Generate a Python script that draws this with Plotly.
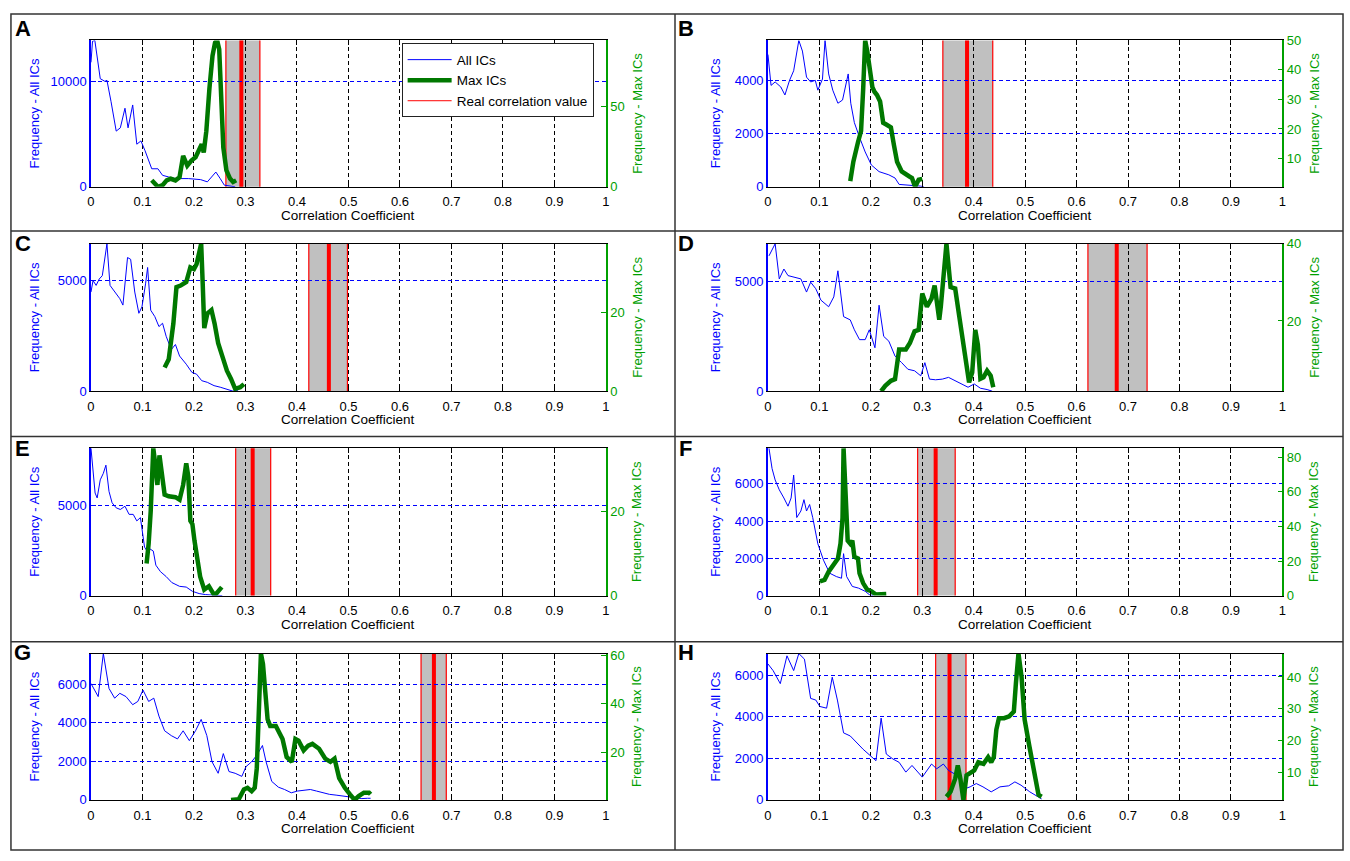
import plotly.graph_objects as go

FONT = "Liberation Sans, Arial, Helvetica, sans-serif"
W, H = 1350, 861
BLUE = "#0000ff"
GREEN_AX = "#00a000"
GREEN_LN = "#007800"
RED = "#ff0000"

panel_letters = ["A", "B", "C", "D", "E", "F", "G", "H"]
x_ticks = [0, 0.1, 0.2, 0.3, 0.4, 0.5, 0.6, 0.7, 0.8, 0.9, 1]
x_tick_text = ["0", "0.1", "0.2", "0.3", "0.4", "0.5", "0.6", "0.7", "0.8", "0.9", "1"]
x_title = "Correlation Coefficient"
left_title = "Frequency - All ICs"
right_title = "Frequency - Max ICs"
legend_names = ["All ICs", "Max ICs", "Real correlation value"]

# ---------------- Panel A ----------------
A_all_x = [0, 0.003, 0.0075, 0.0125, 0.018, 0.027, 0.031, 0.039, 0.049, 0.057, 0.066, 0.072, 0.081, 0.089,
           0.097, 0.105, 0.118, 0.13, 0.139, 0.151, 0.164, 0.189, 0.213, 0.226, 0.2425, 0.251, 0.259, 0.272, 0.28]
A_all = [11800, 13800, 13880, 12100, 10250, 10000, 10100, 8070, 5280, 5590, 7450, 5590, 7760, 4040,
         4350, 3420, 1710, 1710, 1090, 930, 780, 780, 680, 470, 1400, 780, 155, 60, 0]
A_max_x = [0.118, 0.13, 0.139, 0.147, 0.155, 0.164, 0.172, 0.179, 0.187, 0.195, 0.203, 0.209, 0.215, 0.219,
           0.224, 0.23, 0.236, 0.241, 0.245, 0.249, 0.253, 0.257, 0.263, 0.27, 0.276, 0.282]
A_max = [4.1, 0, 1, 4, 5, 4, 6, 19.3, 13.2, 16.3, 18.3, 22.4, 26.5, 21.4,
         34.6, 61, 81.4, 89.6, 91, 85.5, 61, 24.4, 10.2, 5.1, 3, 4]

# ---------------- Panel B ----------------
B_all_x = [0, 0.006, 0.014, 0.025, 0.033, 0.042, 0.05, 0.06, 0.067, 0.075, 0.083, 0.092, 0.097, 0.106, 0.111,
           0.118, 0.126, 0.136, 0.145, 0.156, 0.161, 0.168, 0.178, 0.189, 0.201, 0.216, 0.235, 0.247, 0.255,
           0.285, 0.297, 0.303]
B_all = [4970, 3810, 3940, 3750, 3450, 4000, 4360, 5500, 5100, 4120, 3940, 4000, 3630, 4050, 5500,
         4240, 3630, 3140, 3260, 4240, 3140, 2410, 1860, 1310, 820, 570, 450, 330, 90,
         60, 25, 0]
B_max_x = [0.16, 0.166, 0.175, 0.181, 0.185, 0.189, 0.193, 0.197, 0.203, 0.207, 0.212, 0.218, 0.224, 0.23,
           0.239, 0.245, 0.251, 0.26, 0.268, 0.275, 0.28, 0.286, 0.293, 0.3]
B_max = [2.3, 8.9, 15.5, 19.3, 33.1, 50, 46.4, 40.8, 34.2, 32.6, 31.5, 29.3, 22.1, 21.5,
         20.5, 14.4, 8.9, 5.6, 4.5, 3.9, 3.4, 0.4, 2.8, 3.1]

# ---------------- Panel C ----------------
C_all_x = [0, 0.004, 0.01, 0.016, 0.022, 0.031, 0.037, 0.046, 0.056, 0.062, 0.071, 0.077, 0.085, 0.093, 0.099,
           0.106, 0.11, 0.116, 0.124, 0.132, 0.139, 0.146, 0.156, 0.164, 0.172, 0.185, 0.196, 0.205, 0.215,
           0.226, 0.239, 0.251, 0.264, 0.276, 0.285]
C_all = [4480, 5000, 4780, 5070, 5220, 6660, 4780, 4480, 4180, 3890, 6040, 5960, 4480, 3520, 3810,
         4850, 5590, 3660, 3370, 2920, 3070, 2480, 1880, 2110, 1590, 1220, 850, 770, 475,
         400, 250, 180, 100, 0, 30]
C_max_x = [0.143, 0.151, 0.16, 0.166, 0.174, 0.185, 0.193, 0.2, 0.205, 0.21, 0.214, 0.217, 0.22, 0.226,
           0.234, 0.24, 0.247, 0.255, 0.264, 0.272, 0.28, 0.29, 0.297]
C_max = [6.0, 8.1, 17.2, 26.4, 26.8, 27.7, 31.4, 31.0, 32.2, 35.6, 37.4, 27.2, 16.0, 19.7,
         20.6, 17.2, 12.2, 8.9, 5.2, 3.1, 0.6, 1.0, 1.8]

# ---------------- Panel D ----------------
D_all_x = [0.002, 0.008, 0.014, 0.022, 0.031, 0.039, 0.052, 0.064, 0.075, 0.083, 0.093, 0.103, 0.118, 0.128,
           0.136, 0.147, 0.16, 0.168, 0.178, 0.189, 0.197, 0.208, 0.216, 0.225, 0.235, 0.247, 0.26, 0.272,
           0.285, 0.297, 0.305, 0.314, 0.326, 0.339, 0.351, 0.364, 0.376, 0.389, 0.401, 0.413, 0.426, 0.436]
D_all = [6170, 6470, 6720, 5120, 5570, 5270, 5190, 5120, 4520, 4970, 4670, 4150, 3850, 4300,
         5490, 3400, 3250, 2800, 2350, 2350, 2800, 1980, 3920, 2500, 2280, 1600, 1300, 1000,
         930, 700, 1300, 550, 520, 550, 630, 480, 330, 180, 330, 135, 75, 0]
D_max_x = [0.22, 0.228, 0.239, 0.247, 0.255, 0.268, 0.276, 0.285, 0.293, 0.3, 0.309, 0.318, 0.324, 0.333,
           0.336, 0.341, 0.347, 0.355, 0.364, 0.372, 0.383, 0.391, 0.397, 0.403, 0.408, 0.413, 0.419, 0.426,
           0.433, 0.438]
D_max = [1.8, 3.2, 4.5, 4.9, 12.6, 12.6, 14.3, 17.3, 17.7, 27.1, 23.7, 25.8, 29.2, 20.3,
         23.7, 32.6, 40, 28.8, 28.4, 21.1, 10.9, 4.1, 6.6, 17.7, 13.9, 5.0, 5.4, 7.1,
         5.8, 2.8]

# ---------------- Panel E ----------------
E_all_x = [0, 0.004, 0.008, 0.012, 0.018, 0.024, 0.029, 0.035, 0.041, 0.049, 0.057, 0.066, 0.074, 0.082, 0.089,
           0.096, 0.099, 0.104, 0.108, 0.114, 0.121, 0.126, 0.135, 0.146, 0.157, 0.172, 0.185, 0.197, 0.21,
           0.222, 0.239, 0.255]
E_all = [8150, 6850, 5670, 5400, 6400, 6760, 7210, 5760, 5130, 4850, 4760, 4940, 4490, 4490, 4130,
         4310, 3770, 2680, 2500, 2590, 2460, 1680, 1320, 1050, 720, 510, 470, 235, 110,
         55, 20, 0]
E_max_x = [0.108, 0.112, 0.116, 0.121, 0.125, 0.129, 0.133, 0.137, 0.143, 0.151, 0.164, 0.172, 0.179, 0.185,
           0.189, 0.193, 0.197, 0.201, 0.205, 0.212, 0.22, 0.229, 0.235, 0.24, 0.247, 0.254]
E_max = [7.6, 12.3, 20, 34.9, 30.9, 26.2, 33.2, 30.1, 23.9, 23.5, 23.3, 22.7, 26.2, 31.3,
         28.2, 17.7, 16.9, 13, 9.2, 4.5, 1.4, 2.2, 1.0, 0, 1.0, 2.0]

# ---------------- Panel F ----------------
F_all_x = [0.002, 0.008, 0.014, 0.022, 0.031, 0.039, 0.045, 0.05, 0.056, 0.064, 0.07, 0.075, 0.081, 0.087,
           0.097, 0.108, 0.12, 0.133, 0.143, 0.147, 0.153, 0.164, 0.176, 0.189, 0.197, 0.205]
F_all = [7915, 6820, 6210, 5680, 5240, 4800, 5240, 6470, 4190, 4540, 5150, 4540, 4890, 4190,
         2780, 1900, 1200, 1020, 930, 2250, 1020, 490, 400, 230, 50, 0]
F_max_x = [0.101, 0.11, 0.118, 0.128, 0.136, 0.141, 0.145, 0.147, 0.151, 0.155, 0.16, 0.164, 0.168, 0.175,
           0.178, 0.185, 0.193, 0.201, 0.21, 0.222, 0.23]
F_max = [8.2, 9.1, 13.8, 17.6, 21.4, 30, 45, 85.3, 64, 31.8, 30, 31.8, 22.4, 21.4,
         12.9, 7.2, 3.4, 2.5, 0.6, 0.9, 0.9]

# ---------------- Panel G ----------------
G_all_x = [0, 0.006, 0.014, 0.024, 0.035, 0.046, 0.056, 0.068, 0.081, 0.091, 0.101, 0.112, 0.122, 0.132, 0.143,
           0.156, 0.168, 0.179, 0.191, 0.203, 0.214, 0.225, 0.235, 0.247, 0.257, 0.268, 0.28, 0.293, 0.301,
           0.312, 0.322, 0.333, 0.34, 0.351, 0.364, 0.376, 0.389, 0.401, 0.413, 0.426, 0.438, 0.451, 0.463,
           0.476, 0.488, 0.501, 0.513, 0.526, 0.537, 0.543]
G_all = [6030, 5770, 5350, 7580, 5770, 5270, 5520, 5350, 4930, 5100, 5690, 5100, 5270, 4340, 3580,
         3330, 3160, 3580, 3070, 3580, 4170, 3330, 1980, 1380, 2400, 1470, 1380, 1220, 1720,
         1980, 2310, 2820, 1980, 960, 660, 540, 370, 460, 490, 540, 460, 370, 290,
         250, 200, 150, 85, 70, 85, 85]
G_max_x = [0.272, 0.287, 0.297, 0.304, 0.312, 0.318, 0.322, 0.326, 0.33, 0.334, 0.338, 0.343, 0.348, 0.359,
           0.372, 0.38, 0.39, 0.397, 0.403, 0.413, 0.422, 0.43, 0.443, 0.455, 0.465, 0.473, 0.482, 0.493,
           0.503, 0.512, 0.52, 0.53, 0.54, 0.543]
G_max = [0.4, 0.7, 4.7, 5.4, 4.0, 5.4, 13.4, 33.6, 60.7, 56.4, 43, 33.6, 30.9, 30.9,
         25.5, 18.1, 16.1, 25.5, 24.8, 20.8, 22.8, 23.5, 21.5, 17.4, 16.1, 17.4, 9.4, 5.4,
         2.7, 0.4, 2.0, 3.4, 3.4, 2.7]

# ---------------- Panel H ----------------
H_all_x = [0, 0.01, 0.024, 0.037, 0.05, 0.06, 0.071, 0.083, 0.093, 0.101, 0.114, 0.125, 0.135, 0.147, 0.16,
           0.185, 0.21, 0.22, 0.23, 0.243, 0.255, 0.268, 0.28, 0.3, 0.318, 0.328, 0.341, 0.351, 0.368, 0.384,
           0.393, 0.405, 0.418, 0.434, 0.451, 0.468, 0.48, 0.492, 0.509, 0.526, 0.532]
H_all = [6550, 6230, 5600, 6940, 6230, 7050, 6780, 4890, 4810, 4500, 4420, 5910, 4810, 3230, 3080,
         2440, 1890, 3940, 2210, 1970, 1810, 1340, 1660, 1100, 1730, 1500, 1730, 1420, 1180, 550,
         630, 790, 630, 390, 630, 680, 870, 710, 390, 160, 50]
H_max_x = [0.347, 0.355, 0.364, 0.369, 0.374, 0.38, 0.386, 0.394, 0.401, 0.409, 0.419, 0.428, 0.434, 0.439,
           0.444, 0.449, 0.459, 0.469, 0.478, 0.482, 0.487, 0.493, 0.499, 0.508, 0.517, 0.526, 0.532]
H_max = [2.2, 3.8, 7.9, 12.1, 7.9, 1.2, 9.0, 10.0, 10.5, 13.1, 12.6, 14.7, 13.1, 14.7,
         23.4, 27.0, 27.0, 27.6, 29.1, 38.0, 47.4, 40.0, 26.5, 18.3, 10.0, 2.8, 2.2]

# real correlation value and its interval, per panel A..H
real_value = [0.292, 0.387, 0.462, 0.678, 0.314, 0.326, 0.666, 0.353]
real_low = [0.262, 0.340, 0.423, 0.622, 0.281, 0.291, 0.641, 0.326]
real_high = [0.328, 0.437, 0.498, 0.737, 0.349, 0.364, 0.690, 0.385]

# axis limits and ticks, per panel
left_max = [13880, 5500, 6660, 6720, 8150, 7915, 7580, 7050]
left_ticks = [[0, 10000], [0, 2000, 4000], [0, 5000], [0, 5000], [0, 5000],
              [0, 2000, 4000, 6000], [0, 2000, 4000, 6000], [0, 2000, 4000, 6000]]
right_min = [0, 0.39, 0, 1.8, 0, 0, 0.4, 1.2]
right_max = [91, 50, 37.4, 40, 34.9, 85.3, 60.7, 47.4]
right_ticks = [[0, 50], [10, 20, 30, 40, 50], [0, 20], [20, 40], [0, 20],
               [0, 20, 40, 60, 80], [20, 40, 60], [10, 20, 30, 40]]

all_x = [A_all_x, B_all_x, C_all_x, D_all_x, E_all_x, F_all_x, G_all_x, H_all_x]
all_y = [A_all, B_all, C_all, D_all, E_all, F_all, G_all, H_all]
max_x = [A_max_x, B_max_x, C_max_x, D_max_x, E_max_x, F_max_x, G_max_x, H_max_x]
max_y = [A_max, B_max, C_max, D_max, E_max, F_max, G_max, H_max]

# ---------------- geometry (pixels) ----------------
col_px = [(87.5, 605.5), (768.5, 1286.0)]
row_px = [(34, 183), (241, 391), (449, 599), (658, 807)]
ytitle_left_px = [31, 716]
ytitle_right_px = [637, 1318]
letter_x_px = [19, 686]
letter_y_px = [22, 241, 449, 657]


def aid(prefix, n):
    return prefix if n == 1 else f"{prefix}{n}"


fig = go.Figure()
layout = dict(
    width=W, height=H, autosize=False,
    margin=dict(l=0, r=0, t=0, b=0),
    paper_bgcolor="white", plot_bgcolor="white",
    font=dict(family=FONT, size=13, color="black"),
    showlegend=True,
    legend=dict(x=400 / W, y=1 - 37 / H, xanchor="left", yanchor="top",
                bgcolor="white", bordercolor="#222222", borderwidth=1,
                font=dict(family=FONT, size=13.5, color="black"),
                tracegroupgap=0, itemwidth=44),
)
shapes = []
annotations = []

for i in range(8):
    col, row = i % 2, i // 2
    xl, xr = col_px[col]
    yt, yb = row_px[row]
    xn = i + 1
    yl = 2 * i + 1
    yr = 2 * i + 2
    xa = aid("x", xn)
    ya_l = aid("y", yl)
    ya_r = aid("y", yr)

    layout[aid("xaxis", xn)] = dict(
        domain=[xl / W, xr / W], range=[0, 1], anchor=ya_l,
        tickmode="array", tickvals=x_ticks, ticktext=x_tick_text,
        showgrid=True, gridcolor="black", gridwidth=1, griddash="4px,3px",
        showline=True, linecolor="black", linewidth=1, mirror="ticks",
        ticks="inside", ticklen=5, tickcolor="black",
        tickfont=dict(family=FONT, size=13, color="black"),
        ticklabelstandoff=3, zeroline=False, fixedrange=True,
    )
    layout[aid("yaxis", yl)] = dict(
        domain=[1 - yb / H, 1 - yt / H], range=[0, left_max[i]], anchor=xa,
        tickmode="array", tickvals=left_ticks[i], ticktext=[str(v) for v in left_ticks[i]],
        showgrid=True, gridcolor=BLUE, gridwidth=1, griddash="4px,3px",
        showline=True, linecolor=BLUE, linewidth=1.5,
        ticks="inside", ticklen=5, tickcolor=BLUE,
        tickfont=dict(family=FONT, size=13, color=BLUE),
        zeroline=False, fixedrange=True,
    )
    layout[aid("yaxis", yr)] = dict(
        overlaying=ya_l, side="right", anchor=xa,
        range=[right_min[i], right_max[i]],
        tickmode="array", tickvals=right_ticks[i], ticktext=[str(v) for v in right_ticks[i]],
        showgrid=False, showline=True, linecolor=GREEN_AX, linewidth=1.5,
        ticks="inside", ticklen=5, tickcolor=GREEN_AX,
        tickfont=dict(family=FONT, size=13, color=GREEN_AX),
        zeroline=False, fixedrange=True,
    )

    # interval box, its red edges and the real value line
    shapes.append(dict(type="rect", xref=xa, yref=f"{ya_l} domain",
                       x0=real_low[i], x1=real_high[i], y0=0, y1=1,
                       fillcolor="#c0c0c0", line=dict(width=0), layer="below"))
    for edge in (real_low[i], real_high[i]):
        shapes.append(dict(type="line", xref=xa, yref=f"{ya_l} domain",
                           x0=edge, x1=edge, y0=0, y1=1,
                           line=dict(color=RED, width=1.2), layer="below"))
    shapes.append(dict(type="line", xref=xa, yref=f"{ya_l} domain",
                       x0=real_value[i], x1=real_value[i], y0=0, y1=1,
                       line=dict(color=RED, width=4), layer="below"))

    fig.add_trace(go.Scatter(x=all_x[i], y=all_y[i], xaxis=xa, yaxis=ya_l, mode="lines",
                             line=dict(color=BLUE, width=1), name=legend_names[0],
                             showlegend=(i == 0), hoverinfo="skip"))
    fig.add_trace(go.Scatter(x=max_x[i], y=max_y[i], xaxis=xa, yaxis=ya_r, mode="lines",
                             line=dict(color=GREEN_LN, width=4.5), name=legend_names[1],
                             showlegend=(i == 0), hoverinfo="skip"))

    # texts
    annotations.append(dict(text=x_title, xref="paper", yref="paper",
                            x=((xl + xr) / 2) / W, y=1 - (yb + 29) / H,
                            xanchor="center", yanchor="middle", showarrow=False,
                            font=dict(family=FONT, size=13.5, color="black")))
    annotations.append(dict(text=left_title, xref="paper", yref="paper",
                            x=ytitle_left_px[col] / W, y=1 - ((yt + yb) / 2) / H,
                            xanchor="center", yanchor="middle", showarrow=False, textangle=-90,
                            font=dict(family=FONT, size=13, color=BLUE)))
    annotations.append(dict(text=right_title, xref="paper", yref="paper",
                            x=ytitle_right_px[col] / W, y=1 - ((yt + yb) / 2) / H,
                            xanchor="center", yanchor="middle", showarrow=False, textangle=-90,
                            font=dict(family=FONT, size=13, color=GREEN_AX)))
    annotations.append(dict(text=f"<b>{panel_letters[i]}</b>", xref="paper", yref="paper",
                            x=letter_x_px[col] / W, y=1 - letter_y_px[row] / H,
                            xanchor="center", yanchor="middle", showarrow=False,
                            font=dict(family=FONT, size=22, color="black")))

# legend entry for the real correlation value
fig.add_trace(go.Scatter(x=[None], y=[None], xaxis="x", yaxis="y", mode="lines",
                         line=dict(color=RED, width=1), name=legend_names[2],
                         showlegend=True, hoverinfo="skip"))

# panel frame lines
frame = "#333333"
shapes.append(dict(type="rect", xref="paper", yref="paper", x0=7 / W, x1=1347 / W,
                   y0=1 - 858 / H, y1=1 - 7 / H, line=dict(color=frame, width=1.5),
                   fillcolor="rgba(0,0,0,0)", layer="above"))
shapes.append(dict(type="line", xref="paper", yref="paper", x0=675 / W, x1=675 / W,
                   y0=1 - 858 / H, y1=1 - 7 / H, line=dict(color=frame, width=1.5), layer="above"))
for yy in [228, 437, 646]:
    shapes.append(dict(type="line", xref="paper", yref="paper", x0=7 / W, x1=1347 / W,
                       y0=1 - yy / H, y1=1 - yy / H, line=dict(color=frame, width=1.5), layer="above"))

layout["shapes"] = shapes
layout["annotations"] = annotations
fig.update_layout(**layout)
fig.write_html("out.html")
